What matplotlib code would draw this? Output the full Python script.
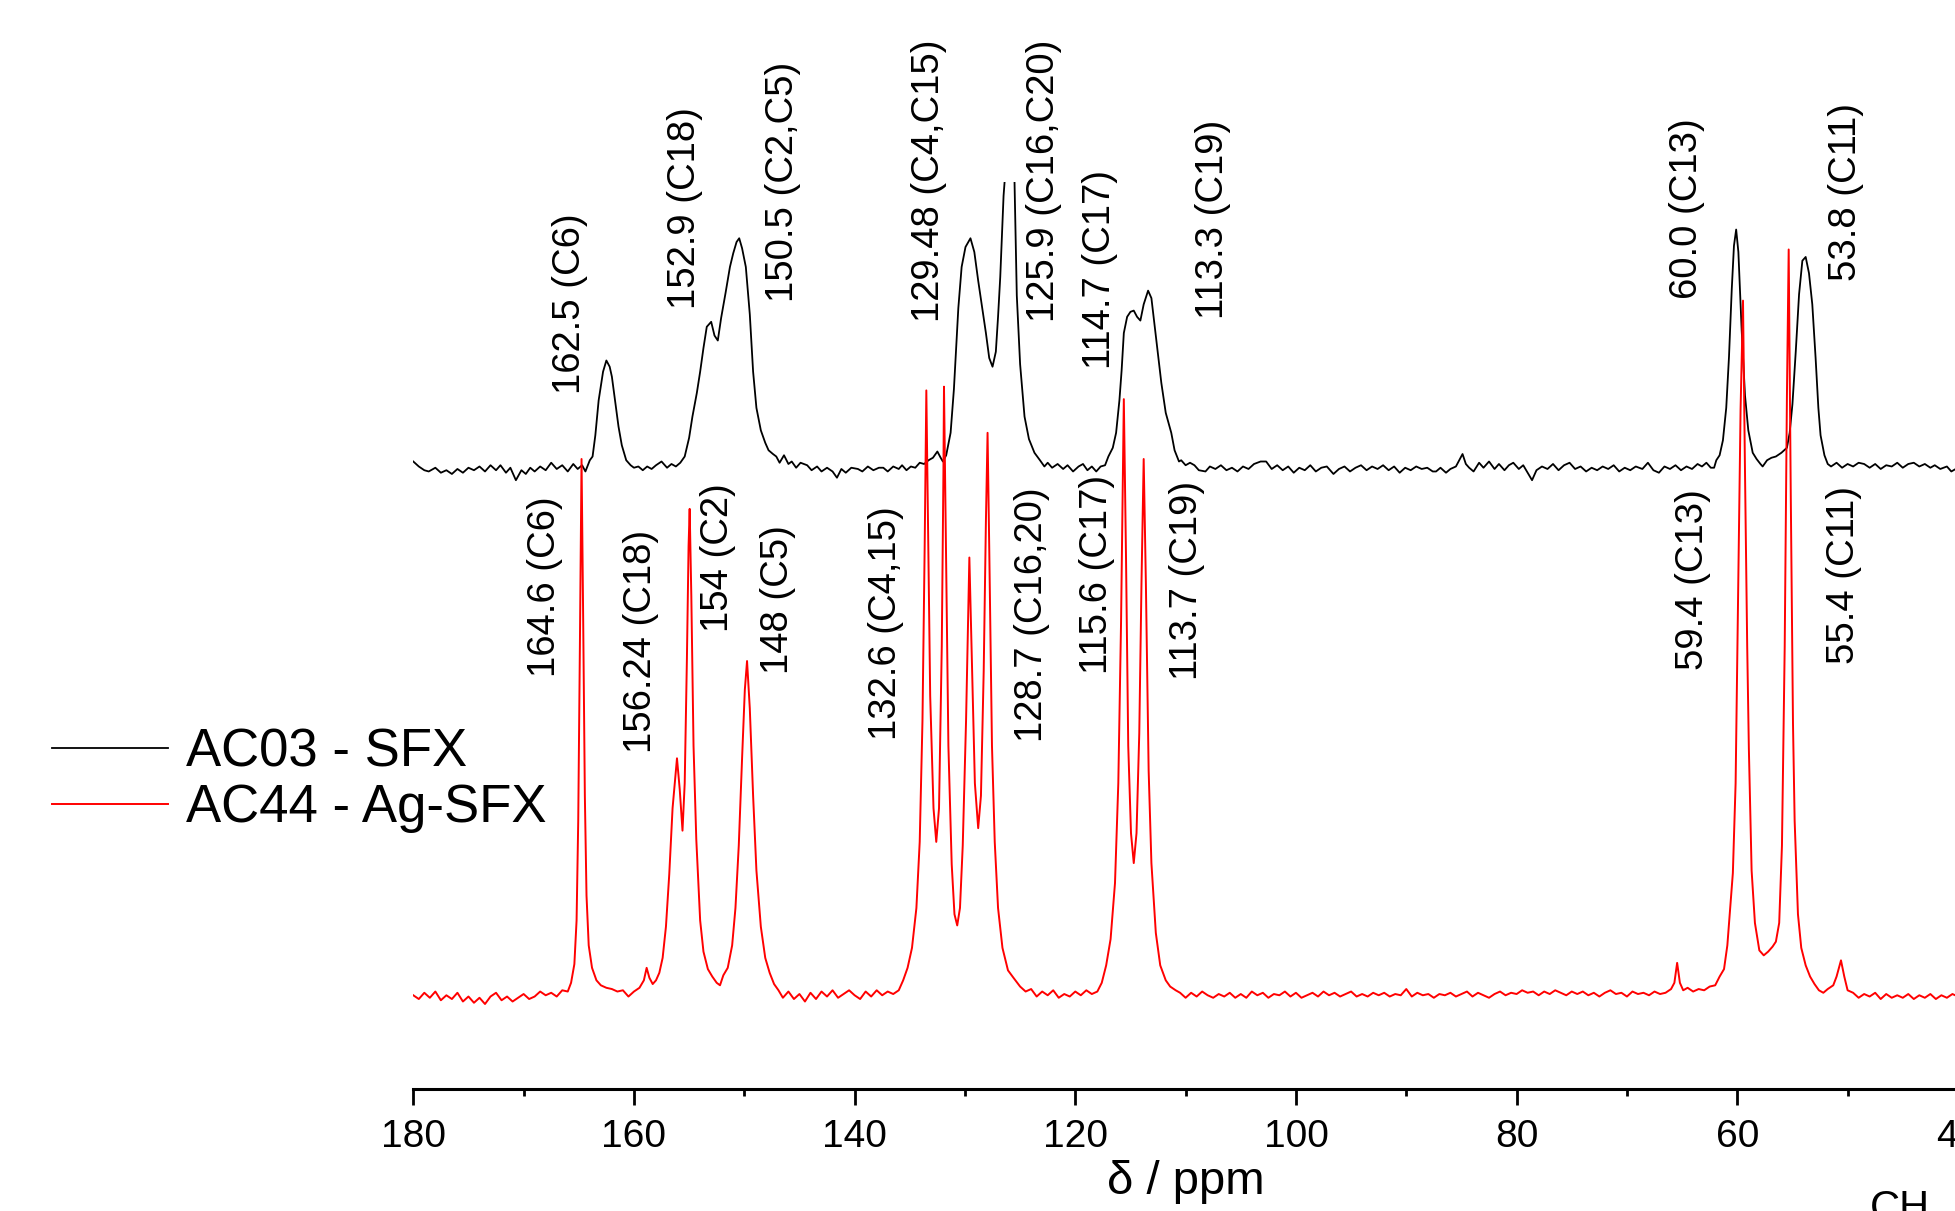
import numpy as np
import matplotlib.pyplot as plt

plt.rcParams['font.family'] = ['Liberation Sans', 'DejaVu Sans']

# AC03 - SFX (black), intensity relative to its own baseline
ppm_black = [180.0, 179.5, 179.0, 178.6, 178.0, 177.5, 177.0, 176.5, 176.0, 175.5,
             175.0, 174.5, 174.0, 173.5, 173.0, 172.5, 172.1, 171.6, 171.2, 170.7,
             170.2, 169.8, 169.4, 169.0, 168.5, 168.0, 167.5, 167.0, 166.5, 166.0,
             165.5, 165.1, 164.7, 164.4, 164.0, 163.75, 163.5, 163.2, 162.8, 162.5,
             162.2, 162.0, 161.7, 161.4, 161.1, 160.7, 160.3, 160.0, 159.6, 159.2,
             158.8, 158.4, 158.0, 157.5, 157.0, 156.6, 156.2, 155.8, 155.4, 155.0,
             154.7, 154.3, 154.0, 153.7, 153.4, 153.0, 152.7, 152.4, 152.1, 151.7,
             151.3, 151.0, 150.7, 150.46, 150.2, 149.86, 149.5, 149.2, 148.9, 148.5,
             148.1, 147.8, 147.4, 147.1, 146.8, 146.4, 146.0, 145.7, 145.3, 144.9,
             144.3, 143.9, 143.4, 143.0, 142.5, 142.0, 141.6, 141.2, 140.8, 140.3,
             139.7, 139.3, 138.8, 138.3, 137.8, 137.4, 137.0, 136.5, 136.0, 135.7,
             135.3, 134.9, 134.5, 134.1, 133.7, 133.3, 132.9, 132.5, 132.2, 132.0,
             131.7, 131.3, 131.0, 130.6, 130.3, 129.95, 129.5, 129.15, 128.8, 128.4,
             128.1, 127.8, 127.5, 127.2, 127.0, 126.8, 126.5, 126.25, 125.9, 125.55,
             125.3, 125.0, 124.6, 124.2, 123.7, 123.2, 122.8, 122.5, 122.1, 121.6,
             121.1, 120.7, 120.2, 119.7, 119.3, 118.9, 118.5, 118.1, 117.7, 117.3,
             117.0, 116.6, 116.3, 116.0, 115.8, 115.6, 115.3, 115.0, 114.7, 114.4,
             114.1, 113.8, 113.4, 113.1, 112.9, 112.6, 112.2, 111.8, 111.3, 111.0,
             110.6, 110.4, 110.0, 109.6, 109.2, 108.8, 108.2, 107.8, 107.3, 106.8,
             106.3, 105.8, 105.3, 104.8, 104.3, 103.8, 103.2, 102.7, 102.2, 101.7,
             101.2, 100.7, 100.2, 99.7, 99.2, 98.7, 98.2, 97.7, 97.2, 96.6,
             96.1, 95.6, 95.1, 94.6, 94.1, 93.6, 93.1, 92.6, 92.1, 91.6,
             91.1, 90.6, 90.1, 89.6, 89.1, 88.6, 88.1, 87.6, 87.3, 86.9,
             86.4, 86.0, 85.5, 85.2, 84.9, 84.6, 84.3, 83.9, 83.4, 83.0,
             82.5, 82.0, 81.6, 81.1, 80.7, 80.3, 79.8, 79.4, 79.0, 78.6,
             78.2, 77.7, 77.2, 76.7, 76.2, 75.7, 75.2, 74.7, 74.2, 73.7,
             73.2, 72.7, 72.2, 71.7, 71.2, 70.7, 70.2, 69.7, 69.2, 68.6,
             68.1, 67.6, 67.1, 66.6, 66.1, 65.6, 65.1, 64.6, 64.1, 63.6,
             63.2, 62.8, 62.4, 62.1, 61.9, 61.6, 61.3, 61.0, 60.75, 60.5,
             60.3, 60.1, 59.9, 59.6, 59.3, 59.0, 58.6, 58.25, 57.9, 57.7,
             57.3, 56.9, 56.5, 56.0, 55.5, 55.25, 55.0, 54.7, 54.4, 54.1,
             53.8, 53.5, 53.2, 52.9, 52.65, 52.45, 52.1, 51.8, 51.5, 51.0,
             50.5, 50.0, 49.5, 49.0, 48.5, 48.0, 47.5, 47.0, 46.5, 46.0,
             45.5, 45.0, 44.5, 44.0, 43.5, 43.0, 42.5, 42.1, 41.6, 41.0,
             40.6, 40.0, 39.0]
int_black = [0.7, 0.3, 0.0, -0.1, 0.2, -0.2, 0.0, -0.3, 0.1, -0.2,
             0.2, 0.0, 0.3, -0.1, 0.4, 0.0, 0.4, -0.2, 0.2, -0.8,
             0.0, -0.3, 0.2, -0.1, 0.3, 0.0, 0.6, 0.1, 0.4, -0.1,
             0.5, 0.1, 0.4, -0.1, 0.8, 1.1, 2.8, 5.6, 7.9, 8.8,
             8.3, 7.5, 5.5, 3.5, 2.0, 0.8, 0.4, 0.2, 0.3, 0.0,
             0.3, 0.1, 0.4, 0.7, 0.2, 0.5, 0.3, 0.6, 1.1, 2.6,
             4.3, 6.2, 7.9, 9.8, 11.5, 11.9, 10.8, 10.4, 12.2, 14.2,
             16.3, 17.4, 18.3, 18.6, 17.8, 16.3, 12.5, 7.9, 5.0, 3.2,
             2.2, 1.6, 1.3, 1.1, 0.6, 1.2, 0.5, 0.7, 0.2, 0.6,
             0.4, 0.0, 0.3, -0.1, 0.2, -0.1, -0.6, 0.1, -0.2, 0.2,
             0.1, -0.1, 0.3, 0.0, 0.2, 0.2, -0.1, 0.3, 0.1, 0.4,
             0.0, 0.3, 0.2, 0.6, 0.5, 0.8, 1.0, 1.5, 1.0, 0.7,
             1.2, 3.0, 6.5, 13.0, 16.3, 17.9, 18.6, 17.5, 15.2, 12.8,
             11.0, 9.0, 8.3, 9.5, 12.3, 15.5, 22.0, 25.0, 30.0, 25.0,
             14.0, 8.5, 4.3, 2.5, 1.4, 0.8, 0.3, 0.6, 0.2, 0.5,
             0.1, 0.4, -0.1, 0.3, 0.5, 0.0, 0.3, -0.1, 0.3, 0.4,
             1.1, 1.8, 3.0, 5.6, 8.0, 11.0, 12.3, 12.7, 12.8, 12.3,
             12.0, 13.3, 14.4, 13.8, 12.3, 10.0, 7.0, 4.6, 3.0, 1.6,
             0.7, 0.8, 0.4, 0.6, 0.4, 0.0, -0.1, 0.3, 0.1, 0.4,
             0.0, 0.2, -0.1, 0.3, 0.1, 0.5, 0.7, 0.7, 0.1, 0.4,
             0.0, 0.3, -0.2, 0.2, 0.0, 0.4, -0.1, 0.2, 0.3, -0.3,
             0.1, 0.3, -0.1, 0.2, 0.4, 0.0, 0.3, 0.1, 0.4, 0.0,
             0.3, -0.2, 0.2, 0.0, 0.3, 0.1, 0.2, -0.1, -0.1, 0.2,
             -0.2, 0.1, 0.3, 0.8, 1.3, 0.5, 0.2, -0.1, 0.6, 0.2,
             0.7, 0.1, 0.5, 0.0, 0.4, 0.6, 0.1, 0.4, -0.2, -0.8,
             0.0, 0.3, 0.1, 0.5, 0.0, 0.4, 0.6, 0.1, 0.3, -0.1,
             0.2, 0.0, 0.3, 0.1, 0.4, -0.1, 0.2, 0.0, 0.3, 0.1,
             0.6, 0.0, -0.2, 0.3, 0.1, 0.4, 0.0, 0.3, 0.1, 0.5,
             0.3, 0.6, 0.2, 0.2, 0.8, 1.2, 2.4, 5.0, 9.1, 14.5,
             18.0, 19.3, 17.5, 11.2, 6.0, 3.2, 1.4, 0.9, 0.5, 0.3,
             0.8, 1.0, 1.1, 1.4, 1.8, 3.0, 5.3, 9.5, 14.1, 16.8,
             17.1, 15.8, 13.3, 9.0, 5.0, 2.8, 1.2, 0.5, 0.3, 0.6,
             0.2, 0.5, 0.3, 0.6, 0.5, 0.2, 0.5, 0.1, 0.4, 0.3,
             0.6, 0.2, 0.5, 0.6, 0.3, 0.5, 0.2, 0.4, 0.1, 0.3,
             -0.1, 0.2, 0.0]

# AC44 - Ag-SFX (red)
ppm_red = [180.0, 179.5, 179.0, 178.5, 178.0, 177.5, 177.0, 176.5, 176.0, 175.5,
           175.0, 174.5, 174.0, 173.5, 173.0, 172.5, 172.0, 171.5, 171.0, 170.5,
           170.0, 169.5, 169.0, 168.5, 168.0, 167.5, 167.0, 166.5, 166.0, 165.7,
           165.4, 165.2, 165.05, 164.9, 164.75, 164.6, 164.45, 164.3, 164.1, 163.8,
           163.4, 163.0, 162.5, 162.0, 161.5, 161.0, 160.5, 160.0, 159.5, 159.1,
           158.85, 158.6, 158.3, 158.0, 157.7, 157.4, 157.1, 156.8, 156.5, 156.1,
           155.85, 155.6, 155.4, 155.2, 155.05, 154.95, 154.8, 154.6, 154.35, 154.0,
           153.7, 153.3, 152.9, 152.5, 152.2, 151.9, 151.5, 151.1, 150.8, 150.5,
           150.2, 149.95, 149.75, 149.5, 149.2, 148.9, 148.5, 148.1, 147.7, 147.3,
           146.9, 146.5, 146.0, 145.5, 145.0, 144.5, 144.0, 143.5, 143.0, 142.5,
           142.0, 141.5, 141.0, 140.5, 140.0, 139.5, 139.0, 138.5, 138.0, 137.5,
           137.0, 136.5, 136.0, 135.6, 135.2, 134.8, 134.4, 134.1, 133.85, 133.65,
           133.5, 133.35, 133.15, 132.85, 132.6, 132.35, 132.1, 131.95, 131.9, 131.75,
           131.5, 131.2, 130.95, 130.7, 130.45, 130.2, 129.9, 129.6, 129.35, 129.1,
           128.8, 128.55, 128.3, 128.1, 127.95, 127.8, 127.55, 127.3, 127.0, 126.6,
           126.1, 125.6, 125.0, 124.5, 124.0, 123.5, 123.0, 122.5, 122.0, 121.5,
           121.0, 120.5, 120.0, 119.5, 119.0, 118.5, 118.0, 117.6, 117.2, 116.8,
           116.4, 116.1, 115.85, 115.6, 115.4, 115.2, 114.95, 114.7, 114.45, 114.2,
           114.0, 113.8, 113.6, 113.35, 113.1, 112.7, 112.3, 111.8, 111.4, 110.9,
           110.5, 110.0, 109.5, 109.0, 108.5, 108.0, 107.5, 107.0, 106.5, 106.0,
           105.5, 105.0, 104.5, 104.0, 103.5, 103.0, 102.5, 102.0, 101.5, 101.0,
           100.5, 100.0, 99.5, 99.0, 98.5, 98.0, 97.5, 97.0, 96.5, 96.0,
           95.5, 95.0, 94.5, 94.0, 93.5, 93.0, 92.5, 92.0, 91.5, 91.0,
           90.5, 90.0, 89.5, 89.0, 88.5, 88.0, 87.5, 87.0, 86.5, 86.0,
           85.5, 85.0, 84.5, 84.0, 83.5, 83.0, 82.5, 82.0, 81.5, 81.0,
           80.5, 80.0, 79.5, 79.0, 78.5, 78.0, 77.5, 77.0, 76.5, 76.0,
           75.5, 75.0, 74.5, 74.0, 73.5, 73.0, 72.5, 72.0, 71.5, 71.0,
           70.5, 70.0, 69.5, 69.0, 68.5, 68.0, 67.5, 67.0, 66.5, 66.0,
           65.7, 65.45, 65.2, 64.9, 64.5, 64.0, 63.5, 63.0, 62.5, 62.0,
           61.6, 61.2, 60.9, 60.6, 60.4, 60.15, 59.96, 59.7, 59.48, 59.3,
           59.1, 58.95, 58.7, 58.4, 58.0, 57.6, 57.2, 56.8, 56.5, 56.2,
           55.95, 55.7, 55.5, 55.34, 55.15, 54.95, 54.8, 54.5, 54.2, 53.8,
           53.4, 53.0, 52.6, 52.2, 51.8, 51.3, 51.0, 50.6, 50.3, 50.0,
           49.5, 49.0, 48.5, 48.0, 47.5, 47.0, 46.5, 46.0, 45.5, 45.0,
           44.5, 44.0, 43.5, 43.0, 42.5, 42.0, 41.5, 41.0, 40.5, 40.0,
           39.0]
int_red = [0.0, -0.3, 0.2, -0.2, 0.3, -0.4, 0.0, -0.3, 0.2, -0.5,
           -0.1, -0.6, -0.2, -0.7, -0.1, 0.2, -0.4, -0.1, -0.5, -0.2,
           0.1, -0.3, -0.1, 0.3, 0.0, 0.2, -0.1, 0.4, 0.3, 1.0,
           2.5, 6.0, 14.0, 28.0, 43.0, 30.0, 16.0, 8.0, 4.0, 2.2,
           1.2, 0.8, 0.6, 0.5, 0.3, 0.4, -0.1, 0.3, 0.6, 1.2,
           2.2, 1.4, 0.9, 1.2, 1.8, 3.0, 5.5, 9.7, 15.0, 19.0,
           16.5, 13.2, 17.0, 27.0, 36.0, 39.0, 32.0, 20.0, 12.5, 6.0,
           3.5, 2.1, 1.5, 1.0, 0.8, 1.6, 2.2, 4.0, 7.0, 12.0,
           19.0, 24.5, 26.8, 23.0, 16.0, 10.0, 5.5, 3.0, 1.8, 0.9,
           0.4, -0.2, 0.3, -0.3, 0.1, -0.5, 0.2, -0.3, 0.3, -0.1,
           0.4, -0.2, 0.1, 0.4, 0.0, -0.3, 0.3, -0.1, 0.4, 0.0,
           0.3, 0.1, 0.4, 1.2, 2.2, 3.8, 7.0, 12.3, 22.0, 36.0,
           48.5, 38.0, 24.0, 15.0, 12.3, 15.0, 28.0, 42.0, 48.8, 38.0,
           20.0, 10.5, 6.5, 5.6, 7.0, 12.0, 22.0, 35.1, 26.0, 17.0,
           13.4, 16.0, 26.0, 38.0, 45.1, 36.0, 20.0, 12.3, 7.0, 3.8,
           2.0, 1.4, 0.7, 0.3, 0.5, -0.1, 0.3, 0.0, 0.4, -0.2,
           0.1, -0.1, 0.3, 0.0, 0.4, 0.1, 0.3, 1.0, 2.4, 4.5,
           9.0, 17.0, 30.0, 47.8, 35.0, 20.0, 13.0, 10.6, 13.0, 21.0,
           33.0, 43.0, 33.0, 18.0, 10.6, 5.0, 2.4, 1.2, 0.7, 0.4,
           0.2, -0.2, 0.2, -0.1, 0.3, 0.0, -0.2, 0.1, -0.1, 0.2,
           -0.2, 0.1, -0.2, 0.3, 0.0, 0.2, -0.2, 0.1, 0.0, 0.3,
           -0.1, 0.2, -0.2, 0.0, 0.2, -0.1, 0.3, 0.0, 0.2, -0.1,
           0.1, 0.3, -0.1, 0.1, -0.1, 0.2, 0.0, 0.2, -0.1, 0.1,
           0.0, 0.5, -0.1, 0.2, 0.0, 0.1, -0.2, 0.1, 0.0, 0.2,
           -0.1, 0.1, 0.3, -0.1, 0.2, 0.0, -0.2, 0.1, 0.3, 0.0,
           0.2, 0.1, 0.4, 0.2, 0.3, 0.0, 0.3, 0.1, 0.4, 0.2,
           0.0, 0.3, 0.1, 0.3, 0.0, 0.2, -0.1, 0.2, 0.4, 0.1,
           0.2, -0.1, 0.3, 0.1, 0.2, 0.0, 0.3, 0.1, 0.2, 0.5,
           1.0, 2.6, 1.0, 0.4, 0.6, 0.3, 0.5, 0.4, 0.7, 0.8,
           1.5, 2.1, 4.0, 7.5, 9.8, 17.0, 29.8, 47.0, 55.7, 42.0,
           28.0, 19.8, 10.0, 5.8, 3.6, 3.2, 3.5, 3.9, 4.3, 5.8,
           12.0, 28.0, 48.0, 59.8, 40.0, 21.8, 14.0, 6.5, 3.8, 2.4,
           1.5, 0.9, 0.4, 0.2, 0.5, 0.8, 1.5, 2.8, 1.5, 0.4,
           0.2, -0.2, 0.1, -0.1, 0.2, -0.3, 0.1, -0.2, 0.0, -0.2,
           0.1, -0.3, 0.0, -0.2, 0.1, -0.3, 0.0, -0.2, 0.1, -0.1,
           0.0]

black_offset = 42.1

# peak labels: text, ppm, bottom of text (plot units)
labels_black = ['162.5 (C6)', '152.9 (C18)', '150.5 (C2,C5)', '129.48 (C4,C15)',
                '125.9 (C16,C20)', '114.7 (C17)', '113.3 (C19)', '60.0 (C13)', '53.8 (C11)']
lab_black_x = [165.8, 155.4, 146.5, 133.3, 122.8, 117.8, 107.5, 64.6, 50.1]
lab_black_y = [48.2, 55.0, 55.6, 54.0, 54.0, 50.2, 54.2, 55.8, 57.3]

labels_red = ['164.6 (C6)', '156.24 (C18)', '154 (C2)', '148 (C5)', '132.6 (C4,15)',
              '128.7 (C16,20)', '115.6 (C17)', '113.7 (C19)', '59.4 (C13)', '55.4 (C11)']
lab_red_x = [168.1, 159.4, 152.4, 146.9, 137.2, 123.9, 118.0, 109.9, 64.0, 50.3]
lab_red_y = [25.5, 19.4, 29.1, 25.8, 20.5, 20.3, 25.8, 25.3, 26.1, 26.6]

fig = plt.figure(figsize=(19.55, 12.11), dpi=100)
ax = fig.add_axes([0.2114, 0.1009, 0.7901, 0.7487])

l1, = ax.plot(ppm_black, np.array(int_black) + black_offset, color='black', lw=1.3,
              label='AC03 - SFX')
l2, = ax.plot(ppm_red, int_red, color='red', lw=1.4, label='AC44 - Ag-SFX')

for t, x, y in zip(labels_black, lab_black_x, lab_black_y):
    ax.text(x, y, t, rotation=90, ha='center', va='bottom', fontsize=27.5, clip_on=False)
for t, x, y in zip(labels_red, lab_red_x, lab_red_y):
    ax.text(x, y, t, rotation=90, ha='center', va='bottom', fontsize=27.5, clip_on=False)

ax.set_xlim(180, 40)
ax.set_ylim(-7.5, 65.2)
for s in ['left', 'right', 'top']:
    ax.spines[s].set_visible(False)
ax.spines['bottom'].set_linewidth(2.2)
ax.set_yticks([])
ax.set_xticks(np.arange(180, 39, -20))
ax.set_xticks(np.arange(170, 39, -20), minor=True)
ax.tick_params(axis='x', which='major', direction='out', length=11.5, width=2, pad=10,
               labelsize=28)
ax.tick_params(axis='x', which='minor', direction='out', length=5, width=2)
ax.set_xlabel('δ / ppm', fontsize=34, labelpad=4)

fig.legend(handles=[l1, l2], loc='upper left', bbox_to_anchor=(52 / 1955, 0.399),
           frameon=False, fontsize=38, handlelength=2.2, handletextpad=0.33,
           labelspacing=0.1, borderpad=0, borderaxespad=0)

fig.text(1870 / 1955, 0.018, 'CH', fontsize=30, va='top', ha='left')

fig.savefig('out.png', dpi=100)
